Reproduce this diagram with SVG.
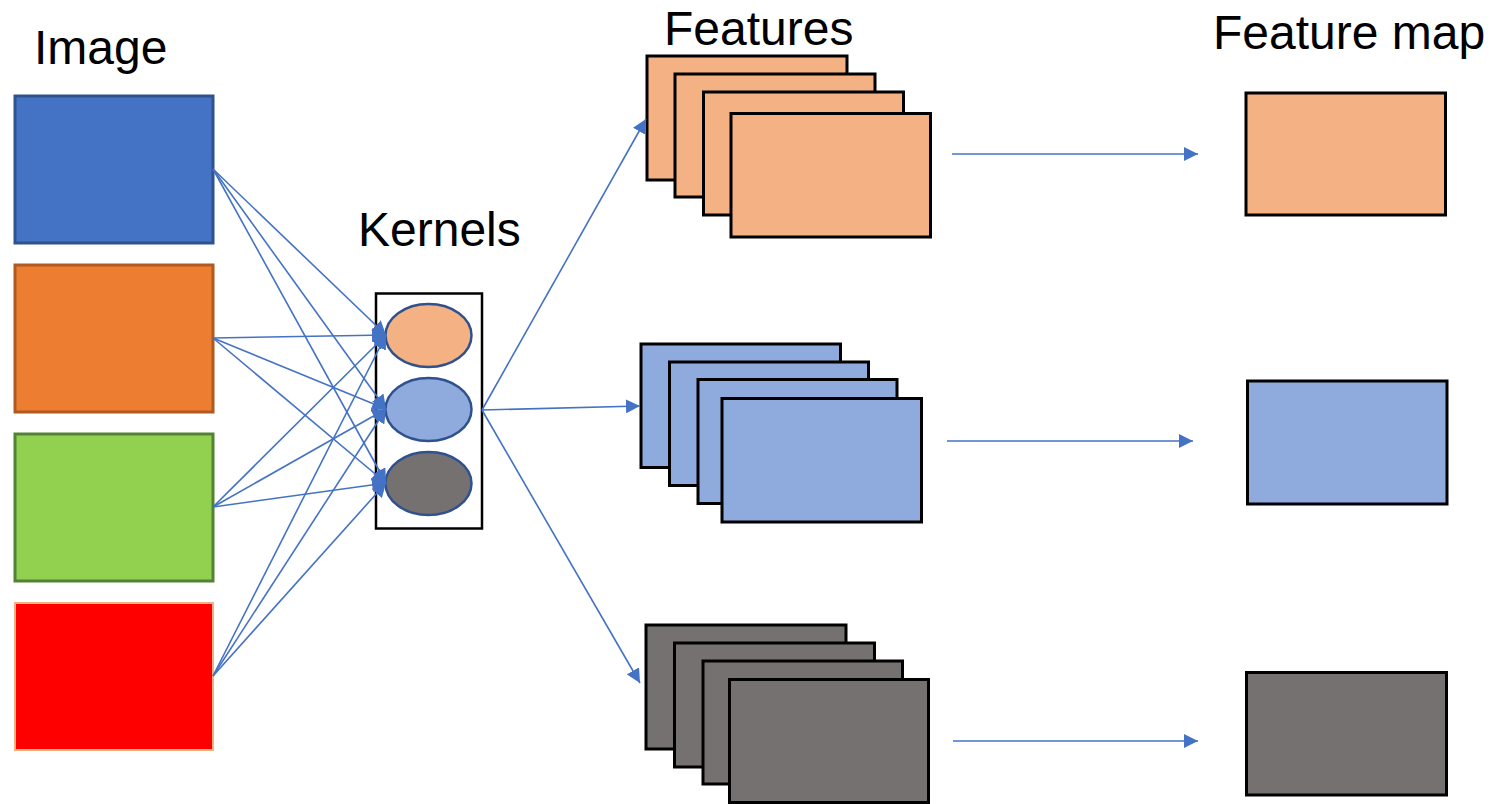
<svg xmlns="http://www.w3.org/2000/svg" width="1491" height="804" viewBox="0 0 1491 804">
  <style>
    .lbl { font-family: "Liberation Sans", Arial, sans-serif; font-size: 48px; fill: #000; }
    .conn { stroke: #4472C4; stroke-width: 1.6; fill: none; }
    .fmap { stroke: #000; stroke-width: 3; }
    .orange { fill: #F4B183; }
    .blue { fill: #8FAADC; }
    .gray { fill: #767171; }
    .kern { stroke: #2F528F; stroke-width: 2.5; }
  </style>
  <defs>
    <marker id="arrowL" viewBox="0 0 10 10" refX="10" refY="5" markerWidth="14" markerHeight="14" markerUnits="userSpaceOnUse" orient="auto">
      <path d="M0,0 L10,5 L0,10 z" fill="#4472C4"/>
    </marker>
  </defs>

  <!-- titles -->
  <text class="lbl" x="34" y="64">Image</text>
  <text class="lbl" x="664" y="45">Features</text>
  <text class="lbl" x="358" y="246">Kernels</text>
  <text class="lbl" x="1213" y="49">Feature map</text>

  <!-- input channels -->
  <g id="channel-blue"><rect x="15" y="96" width="198" height="147" fill="#4472C4" stroke="#2F528F" stroke-width="3"/></g>
  <g id="channel-orange"><rect x="15" y="265" width="198" height="147" fill="#ED7D31" stroke="#AE5A21" stroke-width="3"/></g>
  <g id="channel-green"><rect x="15" y="434" width="198" height="147" fill="#92D050" stroke="#548235" stroke-width="3"/></g>
  <g id="channel-red"><rect x="15" y="603" width="198" height="147" fill="#FF0000" stroke="#F4B183" stroke-width="2"/></g>

  <!-- kernel bank -->
  <g id="kernels">
    <rect x="376" y="293.5" width="106" height="235" fill="#fff" stroke="#000" stroke-width="2.5"/>
    <ellipse class="kern orange" cx="428.5" cy="335.5" rx="43" ry="31.5"/>
    <ellipse class="kern blue" cx="428.5" cy="409.5" rx="43" ry="31.5"/>
    <ellipse class="kern gray" cx="428.5" cy="483.5" rx="43" ry="31.5"/>
  </g>

  <!-- feature stacks -->
  <g id="features-orange" class="fmap orange">
    <rect x="647" y="56" width="200" height="124"/>
    <rect x="675" y="74" width="200" height="123"/>
    <rect x="703.5" y="92" width="200" height="123"/>
    <rect x="731" y="113.5" width="199.5" height="123.5"/>
  </g>
  <g id="features-blue" class="fmap blue">
    <rect x="641" y="344" width="199.5" height="123.5"/>
    <rect x="669.5" y="362" width="199" height="123.5"/>
    <rect x="698" y="379.5" width="199" height="124"/>
    <rect x="722" y="398.5" width="199.5" height="123.5"/>
  </g>
  <g id="features-gray" class="fmap gray">
    <rect x="646" y="625" width="200" height="124"/>
    <rect x="674.5" y="643" width="200" height="124"/>
    <rect x="703" y="661" width="199.5" height="123"/>
    <rect x="729.5" y="679.5" width="199" height="123"/>
  </g>

  <!-- pooled feature maps -->
  <g id="map-orange"><rect class="fmap orange" x="1246" y="93" width="199.5" height="122"/></g>
  <g id="map-blue"><rect class="fmap blue" x="1247.5" y="381" width="199.5" height="123"/></g>
  <g id="map-gray"><rect class="fmap gray" x="1246.5" y="672.5" width="200" height="122.5"/></g>

  <!-- connectors -->
  <g id="connectors" class="conn">
    <!-- every channel feeds every kernel -->
    <line x1="213" y1="169" x2="386" y2="335" marker-end="url(#arrowL)"/>
    <line x1="213" y1="169" x2="386" y2="409" marker-end="url(#arrowL)"/>
    <line x1="213" y1="169" x2="386" y2="483" marker-end="url(#arrowL)"/>
    <line x1="213" y1="338" x2="386" y2="335" marker-end="url(#arrowL)"/>
    <line x1="213" y1="338" x2="386" y2="409" marker-end="url(#arrowL)"/>
    <line x1="213" y1="338" x2="386" y2="483" marker-end="url(#arrowL)"/>
    <line x1="213" y1="507" x2="386" y2="335" marker-end="url(#arrowL)"/>
    <line x1="213" y1="507" x2="386" y2="409" marker-end="url(#arrowL)"/>
    <line x1="213" y1="507" x2="386" y2="483" marker-end="url(#arrowL)"/>
    <line x1="213" y1="676" x2="386" y2="335" marker-end="url(#arrowL)"/>
    <line x1="213" y1="676" x2="386" y2="409" marker-end="url(#arrowL)"/>
    <line x1="213" y1="676" x2="386" y2="483" marker-end="url(#arrowL)"/>
    <!-- kernels to feature stacks -->
    <line x1="482" y1="410" x2="646" y2="119" marker-end="url(#arrowL)"/>
    <line x1="482" y1="410" x2="640" y2="406" marker-end="url(#arrowL)"/>
    <line x1="482" y1="410" x2="640" y2="683" marker-end="url(#arrowL)"/>
    <!-- feature stacks to pooled maps -->
    <line x1="952" y1="154" x2="1198" y2="154" marker-end="url(#arrowL)"/>
    <line x1="947" y1="441" x2="1193" y2="441" marker-end="url(#arrowL)"/>
    <line x1="953" y1="741" x2="1198" y2="741" marker-end="url(#arrowL)"/>
  </g>
</svg>
